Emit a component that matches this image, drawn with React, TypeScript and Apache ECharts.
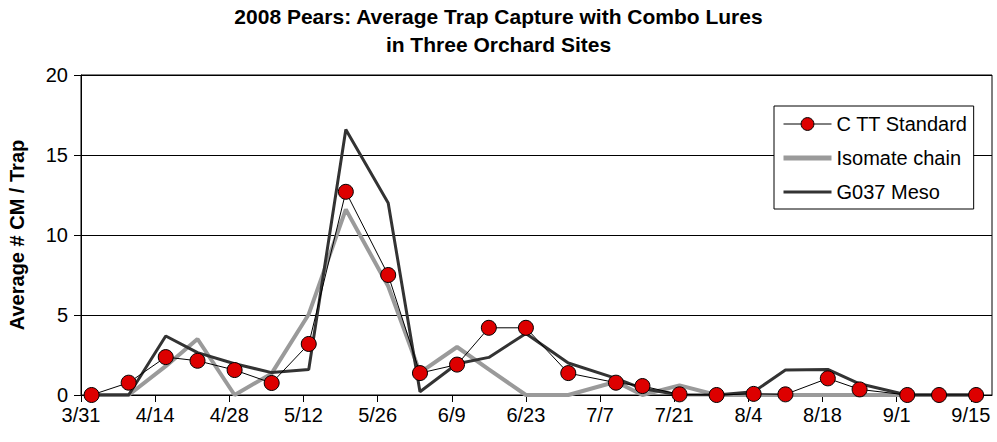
import React, { useEffect, useRef } from "react";
import * as echarts from "echarts";

const sampleDates = ["4/2","4/9","4/16","4/22","4/29","5/6","5/13","5/20","5/28","6/3","6/10","6/16","6/23","7/1","7/10","7/15","7/22","7/29","8/5","8/11","8/19","8/25","9/3","9/9","9/16"];
const cttStandard = [0, 0.77, 2.37, 2.14, 1.56, 0.75, 3.19, 12.7, 7.5, 1.37, 1.9, 4.2, 4.2, 1.37, 0.77, 0.56, 0.04, 0, 0.07, 0.04, 1.04, 0.35, 0, 0, 0];
const isomateChain = [0, 0, 1.8, 3.5, 0, 1.35, 5.05, 11.6, 6.8, 1.4, 3.0, 1.6, 0, 0, 0.83, 0, 0.6, 0, 0, 0, 0, 0, 0, 0, 0];
const g037Meso = [0, 0, 3.69, 2.65, 1.95, 1.4, 1.6, 16.6, 12.0, 0.2, 1.95, 2.35, 3.85, 2.0, 1.04, 0.4, 0, 0, 0.2, 1.56, 1.6, 0.7, 0, 0, 0];
const tickLabels = ["3/31","4/14","4/28","5/12","5/26","6/9","6/23","7/7","7/21","8/4","8/18","9/1","9/15"];
const yTicks = [0, 5, 10, 15, 20];
const titleLines = ["2008 Pears: Average Trap Capture with Combo Lures", "in Three Orchard Sites"];

const YEAR = 2008;
const START = Date.UTC(YEAR, 2, 31);
const DAY = 86400000;
const toDay = (md: string) => {
  const [m, d] = md.split("/").map(Number);
  return Math.round((Date.UTC(YEAR, m - 1, d) - START) / DAY);
};
const TICK_STEP = 14;
const tickDays = tickLabels.map(toDay);

const FONT = "'Liberation Sans', Arial, sans-serif";
const RED = "#DD0000";
const GRAY = "#9a9a9a";
const DARK = "#333333";

export default function App() {
  const ref = useRef<HTMLDivElement>(null);
  useEffect(() => {
    if (!ref.current) return;
    const chart = echarts.init(ref.current, null, { renderer: "svg" });
    const pairs = (vals: number[]) => sampleDates.map((d, i) => [toDay(d), vals[i]]);
    chart.setOption({
      animation: false,
      backgroundColor: "#ffffff",
      textStyle: { fontFamily: FONT },
      title: titleLines.map((t, i) => ({
        text: t,
        left: "center",
        top: 6 + i * 28,
        padding: 0,
        textStyle: { fontFamily: FONT, fontSize: 21, fontWeight: "bold", color: "#000" },
      })),
      legend: {
        orient: "vertical",
        left: 774,
        top: 106,
        padding: [8, 6, 7, 7],
        itemGap: 14,
        itemWidth: 48,
        itemHeight: 16,
        backgroundColor: "#ffffff",
        borderColor: "#000",
        borderWidth: 1,
        borderRadius: 0,
        textStyle: { fontFamily: FONT, fontSize: 20, color: "#000" },
        data: [
          { name: "C TT Standard", lineStyle: { color: "#000", width: 1 }, itemStyle: { color: RED, borderColor: "#000", borderWidth: 1 } },
          { name: "Isomate chain", lineStyle: { color: GRAY, width: 5 }, itemStyle: { opacity: 0 } },
          { name: "G037 Meso", lineStyle: { color: DARK, width: 3 }, itemStyle: { opacity: 0 } },
        ],
      },
      grid: { left: 81, right: 5, top: 75, bottom: 47, show: true, borderColor: "#000", borderWidth: 1, backgroundColor: "transparent", outerBoundsMode: "none" },
      xAxis: {
        type: "value",
        min: tickDays[0],
        max: 172,
        interval: TICK_STEP,
        splitLine: { show: false },
        axisLine: { show: true, lineStyle: { color: "#000", width: 1 } },
        axisTick: { show: true, length: 7, lineStyle: { color: "#000" }, customValues: tickDays },
        axisLabel: {
          customValues: tickDays,
          formatter: (v: number) => {
            const i = tickDays.indexOf(Math.round(v));
            return i >= 0 ? tickLabels[i] : "";
          },
          fontFamily: FONT,
          fontSize: 20,
          color: "#000",
          margin: 10,
        },
      },
      yAxis: {
        type: "value",
        min: yTicks[0],
        max: yTicks[yTicks.length - 1],
        interval: 5,
        name: "Average # CM / Trap",
        nameLocation: "middle",
        nameGap: 54,
        nameTextStyle: { fontFamily: FONT, fontSize: 20, fontWeight: "bold", color: "#000" },
        axisLine: { show: true, lineStyle: { color: "#000", width: 1 } },
        axisTick: { show: true, length: 7, lineStyle: { color: "#000" } },
        axisLabel: { fontFamily: FONT, fontSize: 20, color: "#000", margin: 13 },
        splitLine: { show: true, lineStyle: { color: "#000", width: 1 } },
      },
      series: [
        {
          name: "C TT Standard",
          type: "line",
          z: 4,
          data: pairs(cttStandard),
          symbol: "circle",
          symbolSize: 15,
          showAllSymbol: true,
          lineStyle: { color: "#000", width: 1 },
          itemStyle: { color: RED, borderColor: "#000", borderWidth: 1 },
        },
        {
          name: "Isomate chain",
          type: "line",
          z: 2,
          data: pairs(isomateChain),
          symbol: "none",
          lineStyle: { color: GRAY, width: 4 },
          itemStyle: { color: GRAY },
        },
        {
          name: "G037 Meso",
          type: "line",
          z: 3,
          data: pairs(g037Meso),
          symbol: "none",
          lineStyle: { color: DARK, width: 3 },
          itemStyle: { color: DARK },
        },
      ],
    });
    return () => chart.dispose();
  }, []);
  return <div ref={ref} style={{ position: "fixed", left: 0, top: 0, width: 997, height: 442 }} />;
}
